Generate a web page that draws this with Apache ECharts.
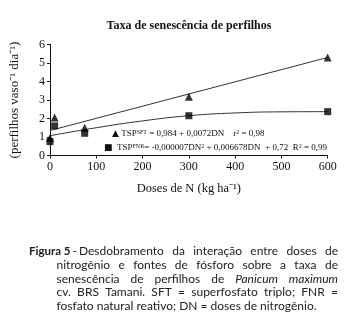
<!DOCTYPE html>
<html>
<head>
<meta charset="utf-8">
<script src="https://cdn.jsdelivr.net/npm/echarts@6/dist/echarts.min.js"></script>
<style>
  html, body { margin: 0; padding: 0; background: #fff; }
  #chart { width: 353px; height: 315px; }
</style>
</head>
<body>
<div id="chart"></div>
<script>
// taxa de senescencia
const doses = [0, 10, 75, 300, 600];
const sftValues = [0.95, 2.05, 1.5, 3.18, 5.3];
const fnrValues = [0.75, 1.6, 1.2, 2.15, 2.37];
const sftFitDoses = [0, 600];
const sftFitValues = [1.35, 5.3];
const fnrFitDoses = [0, 100, 200, 300, 400, 500, 600];
const fnrFitValues = [1.07, 1.5, 1.87, 2.15, 2.3, 2.36, 2.37];
const captionLines = [
  'Desdobramento da interação entre doses de',
  'nitrogênio e fontes de fósforo sobre a taxa de',
  'senescência de perfilhos de Panicum maximum',
  'cv. BRS Tamani. SFT = superfosfato triplo; FNR =',
  'fosfato natural reativo; DN = doses de nitrogênio.'
];
const italicWords = ['Panicum', 'maximum'];

const chart = echarts.init(document.getElementById('chart'));
const serif = '"Liberation Serif", "Times New Roman", serif';
const capFamily = 'Lato, "Noto Sans", sans-serif';
const capSize = 12;

const pairs = (xs, ys) => xs.map((x, i) => [x, ys[i]]);

// legenda justificada feita a mao
const measure = document.createElement('canvas').getContext('2d');
function fontOf(word) {
  return (italicWords.includes(word) ? 'italic ' : '') + capSize + 'px ' + capFamily;
}
function captionGraphics() {
  const boldFont = 'bold 11.5px ' + capFamily;
  measure.font = boldFont;
  const labelW = measure.measureText('Figura 5').width;
  measure.font = fontOf('');
  const dashX = 29 + labelW + 2;
  const firstLeft = dashX + measure.measureText('-').width + 2;
  const els = [
    { type: 'text', x: 29, y: 251.5, style: { text: 'Figura 5', font: boldFont, fill: '#222', verticalAlign: 'middle' } },
    { type: 'text', x: dashX, y: 251.5, style: { text: '-', font: fontOf(''), fill: '#222', verticalAlign: 'middle' } }
  ];
  const right = 338;
  captionLines.forEach((line, i) => {
    const words = line.split(' ');
    const left = i === 0 ? firstLeft : 56.5;
    const y = 251.5 + i * 13.6;
    const widths = words.map(w => { measure.font = fontOf(w); return measure.measureText(w).width; });
    const total = widths.reduce((a, b) => a + b, 0);
    measure.font = fontOf('');
    let gap = measure.measureText(' ').width;
    if (i < captionLines.length - 1) gap = (right - left - total) / (words.length - 1);
    let x = left;
    words.forEach((w, k) => {
      els.push({ type: 'text', x: x, y: y, style: { text: w, font: fontOf(w), fill: '#222', verticalAlign: 'middle' } });
      x += widths[k] + gap;
    });
  });
  return els;
}

const supRich = {
  sup: { fontSize: 6, fontFamily: serif, verticalAlign: 'top', fill: '#111' },
  t: { fontSize: 9, fontFamily: serif, fill: '#111' },
  m: { fontSize: 9, fontFamily: 'DejaVu Sans', fill: '#111' }
};

const option = {
  backgroundColor: '#fff',
  animation: false,
  title: {
    text: 'Taxa de senescência de perfilhos',
    left: 184,
    textAlign: 'center',
    top: 15,
    textStyle: { fontFamily: serif, fontSize: 12, fontWeight: 'bold', color: '#111' }
  },
  grid: { left: 40.7, right: 25.3, top: 44.5, bottom: 159.5, containLabel: false },
  xAxis: {
    type: 'value',
    min: 0, max: 600, interval: 100,
    name: 'Doses de N (kg ha⁻¹)',
    nameLocation: 'middle',
    nameGap: 27,
    nameTextStyle: { fontFamily: serif, fontSize: 12.5, color: '#111' },
    axisLine: { lineStyle: { color: '#111', width: 1 } },
    axisTick: { length: 3, lineStyle: { color: '#111' } },
    axisLabel: { fontFamily: serif, fontSize: 12, color: '#111', margin: 5 },
    splitLine: { show: false }
  },
  yAxis: {
    type: 'value',
    min: 0, max: 6, interval: 1,
    name: '(perfilhos vaso⁻¹ dia⁻¹)',
    nameLocation: 'middle',
    nameRotate: 90,
    nameGap: 29,
    nameTextStyle: { fontFamily: serif, fontSize: 13, color: '#111' },
    axisLine: { show: true, lineStyle: { color: '#111', width: 1 } },
    axisTick: { show: true, length: 3, lineStyle: { color: '#111' } },
    axisLabel: { fontFamily: serif, fontSize: 12, color: '#111', margin: 5 },
    splitLine: { show: false }
  },
  series: [
    {
      type: 'line', name: 'SFT ajuste', data: pairs(sftFitDoses, sftFitValues),
      showSymbol: false, lineStyle: { color: '#333', width: 1 }, silent: true
    },
    {
      type: 'line', name: 'FNR ajuste', data: pairs(fnrFitDoses, fnrFitValues),
      smooth: true, showSymbol: false, lineStyle: { color: '#333', width: 1 }, silent: true
    },
    {
      type: 'scatter', name: 'SFT', data: pairs(doses, sftValues),
      symbol: 'triangle', symbolSize: 8, itemStyle: { color: '#000' }, z: 5
    },
    {
      type: 'scatter', name: 'FNR', data: pairs(doses, fnrValues),
      symbol: 'rect', symbolSize: 7, itemStyle: { color: '#000' }, z: 5
    }
  ],
  graphic: [
    {
      type: 'text', x: 112, y: 134,
      style: {
        text: '{m|▲}{t| TSP}{sup|SFT}{t| = 0,984 + 0,0072DN    r}{sup|2}{t| = 0,98}',
        rich: supRich, verticalAlign: 'middle'
      }
    },
    {
      type: 'text', x: 104, y: 148,
      style: {
        text: '{m|■}{t|  TSP}{sup|FNR}{t|= -0,000007DN}{sup|2}{t| + 0,006678DN  + 0,72  R}{sup|2}{t| = 0,99}',
        rich: supRich, verticalAlign: 'middle'
      }
    }
  ].concat(captionGraphics())
};
chart.setOption(option);
</script>
</body>
</html>
